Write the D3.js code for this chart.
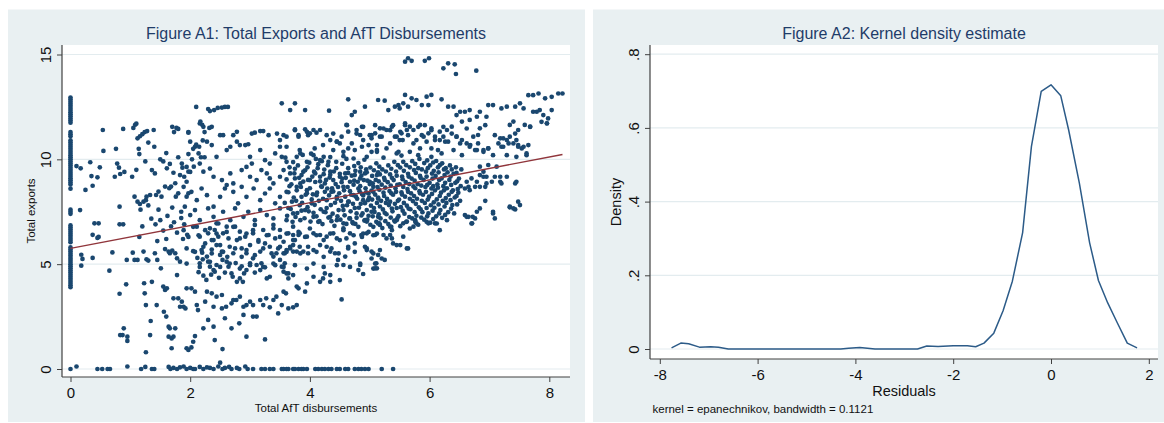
<!DOCTYPE html>
<html>
<head>
<meta charset="utf-8">
<script src="https://cdn.jsdelivr.net/npm/d3@7"></script>
<style>
body { margin: 0; background: #fff; }
svg { display: block; font-family: "Liberation Sans", Arial, sans-serif; }
</style>
</head>
<body>
<svg id="chart"></svg>
<script>
// ---- Figure A1 data ----
// points stacked on x = 0
const colZeroY = [12.95,12.85,12.75,12.65,12.55,12.45,12.35,12.25,12.15,12.05,11.95,11.85,11.75,
  11.3,11.2,11.1,10.9,10.8,10.7,10.6,10.5,10.4,10.3,10.2,10.1,10.0,9.9,9.8,9.7,9.6,9.5,9.4,9.3,9.2,9.1,9.0,8.9,8.8,8.6,
  7.6,7.5,7.4,6.85,6.75,6.65,6.55,6.45,6.35,6.25,6.15,6.05,5.8,5.7,5.6,5.5,5.4,5.3,5.2,5.1,5.0,4.9,4.8,4.7,4.6,4.5,4.4,4.3,4.2,4.1,4.0,3.9];

// points on (or just above) zero exports
const floorPts = [[0,0],[0.1,0.12],[0.45,0],[0.53,0],[0.62,0],[0.66,0],[0.95,0.12],[1.18,0],[1.25,0.1],[1.36,0],[1.4,0],
  [1.64,0.1],[1.67,0],[1.72,0.05],[1.78,0],[1.83,0.08],[1.89,0.12],[1.94,0],[2.0,0.05],[2.05,0],[2.08,0],[2.16,0.1],[2.22,0],
  [2.28,0.08],[2.33,0.05],[2.39,0],[2.47,0.12],[2.5,0.3],[2.54,0],[2.58,0.05],[2.65,0.1],[2.69,0],[2.78,0.05],[2.82,0],[2.92,0.12],
  [2.96,0],[3.05,0],[3.19,0],[3.25,0],[3.33,0],[3.39,0],[3.53,0],[3.56,0],[3.61,0],[3.64,0],[3.72,0],[3.75,0],[3.81,0],[3.86,0],
  [3.89,0],[3.95,0],[4.09,0],[4.14,0],[4.2,0],[4.25,0],[4.31,0],[4.36,0],[4.45,0],[4.5,0],[4.59,0],[4.64,0],[4.75,0],[4.81,0],
  [4.86,0],[4.92,0],[4.98,0],[5.2,0],[5.39,0]];

// low AfT (x < 2)
const lowPts = [[0.10,9.68],[0.17,9.57],[0.25,8.54],[0.16,7.58],[0.35,9.2],[0.37,8.74],[0.33,9.86],[0.49,9.62],[0.45,9.14],
  [0.54,11.4],[0.55,10.4],[0.40,6.95],[0.47,6.95],[0.74,9.17],[0.76,10.5],[0.78,9.8],[0.81,9.6],[0.83,9.3],[0.9,9.4],[0.82,7.74],
  [0.82,6.9],[0.88,6.9],[0.88,11.45],[0.18,5.45],[0.2,5.25],[0.18,4.93],[0.37,5.3],[0.37,6.4],[0.45,6.25],[0.47,6.3],[0.65,4.69],
  [0.7,5.56],[0.82,3.59],[0.83,1.62],[0.87,1.62],[0.89,1.94],[0.95,1.54],[0.95,1.34],[0.93,4.04],[0.94,5.2],
  [1.05,11.5],[1.08,11.65],[1.1,11.7],[1.03,9.17],[1.07,8.22],[1.12,7.98],[1.16,7.87],[1.22,7.98],[1.26,8.05],[1.27,8.22],
  [1.33,8.3],[1.12,11.0],[1.16,11.1],[1.2,11.2],[1.24,11.3],[1.28,11.35],[1.39,11.4],[1.15,10.25],[1.14,10.5],[1.17,7.6],
  [1.36,9.49],[1.41,9.33],[1.43,8.3],[1.47,8.46],[1.52,8.22],[1.58,8.7],[1.65,8.62],[1.68,8.7],[1.61,9.57],[1.66,9.78],
  [1.72,9.36],[1.75,8.86],[1.83,9.25],[1.9,9.17],[1.94,8.93],[1.8,8.38],[1.76,8.22],[1.94,8.22],[1.97,8.38],
  [1.7,11.55],[1.77,11.5],[1.73,11.3],[1.8,11.45],[1.97,11.3],[1.97,10.25],
  [1.04,5.55],[1.07,5.2],[1.12,5.2],[1.22,5.6],[1.23,4.09],[1.24,3.61],[1.26,3.05],[1.27,5.23],[1.3,5.17],[1.33,1.62],
  [1.34,2.29],[1.36,4.16],[1.26,0.8],[1.41,5.52],[1.44,3.05],[1.45,5.2],[1.51,4.8],[1.55,3.93],[1.58,3.77],[1.61,3.85],
  [1.56,2.73],[1.6,2.5],[1.64,2.02],[1.66,1.94],[1.64,1.54],[1.69,1.46],[1.69,0.99],[1.72,1.54],[1.75,1.94],
  [1.58,5.72],[1.64,5.6],[1.66,5.52],[1.7,5.65],[1.75,5.52],[1.78,5.28],[1.83,5.12],[1.78,4.48],[1.72,3.37],[1.8,3.37],
  [1.86,3.21],[1.83,2.97],[1.89,2.97],[1.92,2.89],[1.94,3.85],[1.94,0.99],[1.97,0.91],
  [1.35,7.17],[1.42,6.9],[1.5,7.1],[1.55,6.6],[1.62,7.3],[1.68,6.8],[1.73,7.0],[1.78,6.5],[1.85,7.2],[1.9,6.9],[1.95,6.4],
  [1.2,6.8],[1.15,6.3],[1.45,6.1],[1.6,6.2],[1.88,6.2],[1.3,7.8],[1.47,7.6],[1.7,7.7],[1.85,7.5],[1.5,10.0],[1.55,9.9],
  [1.8,10.1],[1.87,9.6],[1.4,10.6],[1.6,10.3],[1.25,9.9],[1.1,9.5],[1.3,10.8]];

// middle AfT (2 to 3.5)
const midPts = [[2.11,6.79],[2.16,6.31],[2.19,5.67],[2.25,5.99],[2.3,6.47],[2.33,6.71],[2.39,6.15],[2.41,6.63],[2.44,6.95],
  [2.47,6.31],[2.5,5.91],[2.53,5.6],[2.55,6.47],[2.61,6.79],[2.64,6.23],[2.66,5.83],[2.72,5.52],[2.75,6.79],[2.78,6.15],
  [2.83,6.55],[2.86,5.75],[2.92,6.31],[2.94,5.52],[3.0,5.91],[3.05,6.47],[3.08,6.87],[3.14,6.07],[3.17,5.6],[3.22,6.63],
  [3.25,5.99],[3.31,6.39],[3.33,5.83],[3.39,6.87],[3.42,6.23],[3.47,5.75],[3.5,6.63],
  [2.16,5.04],[2.21,5.23],[2.28,5.36],[2.3,5.12],[2.33,4.88],[2.39,4.72],[2.44,4.96],[2.5,5.44],[2.54,5.2],[2.61,5.12],
  [2.64,4.88],[2.69,4.56],[2.71,4.4],[2.78,4.16],[2.83,4.32],[2.88,4.16],[2.9,4.56],[2.94,4.72],[3.0,5.04],[3.05,5.28],
  [3.11,4.96],[3.17,4.72],[3.19,5.04],[3.28,4.32],[3.33,4.4],[3.39,5.36],[3.44,5.52],[3.5,5.2],
  [2.02,3.85],[2.08,3.69],[2.11,3.05],[2.13,2.81],[2.22,1.94],[2.25,3.21],[2.3,2.34],[2.39,2.02],[2.41,1.38],[2.54,0.95],
  [2.41,4.64],[2.02,1.03],[2.05,1.3],[2.08,1.57],[2.28,3.69],[2.36,3.61],[2.44,3.45],[2.53,3.53],[2.39,2.97],[2.53,2.89],
  [2.6,2.97],[2.69,3.13],[2.72,3.29],[2.77,3.29],[2.83,3.45],[2.89,2.97],[2.94,3.05],[3.0,3.21],[3.05,3.05],[2.58,2.42],
  [2.69,1.94],[2.82,2.18],[2.89,2.58],[2.94,1.54],[3.11,2.5],[3.17,3.29],[3.22,3.05],[3.27,3.37],[3.33,2.94],[3.39,3.29],
  [3.44,3.45],[3.47,2.65],[3.05,2.5],[3.25,1.41],
  [2.14,4.62],[2.22,4.45],[2.27,4.25],[2.35,4.5],[2.48,4.35],[2.58,4.6],[2.2,5.55],[2.36,5.7],[2.62,5.35],[2.76,5.05],
  [2.86,4.9],[3.08,4.6],[3.25,4.85],[3.42,4.95],[2.05,5.62],[2.12,5.3],
  [1.91,7.74],[2.0,7.34],[2.08,7.58],[2.16,7.1],[2.3,7.66],[2.39,7.26],[2.47,6.94],[2.55,7.5],[2.67,7.1],[2.75,7.66],
  [2.89,7.26],[2.97,7.5],[3.08,7.1],[3.17,7.58],[3.28,7.34],[3.39,7.18],[3.5,7.66],
  [1.89,6.62],[1.97,6.3],[2.05,6.78],[2.14,6.38],[2.25,6.62],[2.36,6.15],[2.44,6.46],[2.61,6.54],[2.72,6.78],[2.83,6.23],
  [2.94,6.46],[3.05,6.62],[3.14,6.15],[3.28,6.38],[3.39,6.7],[3.5,6.3],
  [1.94,5.75],[2.08,5.59],[2.22,5.83],[2.36,5.51],[2.44,5.91],[2.55,5.59],[2.75,5.75],[2.86,5.35],[2.94,5.67],[3.08,5.43],
  [3.22,5.75],[3.36,5.51],[3.5,5.83],[1.94,5.03],[2.16,4.87],[2.33,5.11],[2.5,4.87],[2.66,5.03],[2.83,4.79],[3.0,4.95],
  [3.22,4.87],[3.39,5.03],
  [1.89,8.69],[2.02,8.45],[2.11,8.05],[2.19,8.61],[2.28,8.29],[2.39,7.74],[2.5,8.21],[2.58,8.61],[2.72,8.45],[2.8,7.9],
  [2.86,8.69],[2.94,8.21],[3.06,8.61],[3.17,8.05],[3.25,8.37],[3.33,8.61],[3.42,7.9],[3.5,8.21],
  [1.86,9.8],[1.94,9.64],[1.97,9.41],[2.16,9.8],[2.22,9.41],[2.33,9.56],[2.39,9.17],[2.53,9.01],[2.61,8.77],[2.67,9.33],
  [2.72,8.85],[2.86,9.49],[2.94,9.64],[3.0,9.17],[3.11,9.01],[3.19,9.49],[3.28,9.33],[3.33,9.09],[3.39,8.85],[3.5,9.17],
  [1.97,11.27],[2.16,11.71],[2.22,11.55],[2.36,11.55],[2.55,11.15],[2.5,11.15],[2.72,11.15],[2.78,11.31],[3.03,11.23],
  [3.08,11.27],[3.17,11.35],[3.22,11.35],[3.31,11.15],[3.45,11.23],[2.0,10.84],[2.08,10.6],[2.14,10.28],[2.28,10.84],
  [2.36,10.68],[2.44,10.12],[2.61,10.44],[2.67,10.6],[2.78,10.84],[2.83,10.68],[2.92,10.68],[2.97,10.72],[3.0,10.12],
  [3.03,9.8],[3.17,10.44],[3.25,9.96],[3.33,9.8],[3.42,10.28],[3.5,10.6],
  [2.1,12.5],[2.17,11.8],[2.2,11.65],[2.24,11.3],[2.32,11.5],[2.3,12.4],[2.33,12.3],[2.4,12.35],[2.46,12.45],[2.53,12.47],
  [2.58,12.5],[2.63,12.5],[2.05,10.5],[2.1,10.7],[2.15,10.6],[2.21,10.9],[2.18,10.1],[2.24,10.1],[2.03,10.0],[2.06,9.65],[2.0,9.4]];

// higher AfT (3.5 to 6.6)
const highPts = [[3.56,6.07],[3.58,5.52],[3.64,6.47],[3.67,5.83],[3.72,6.79],[3.75,6.15],[3.78,5.6],[3.81,6.39],
  [3.53,4.88],[3.56,4.64],[3.64,4.56],[3.72,4.48],[3.78,3.93],
  [3.56,11.15],[3.75,11.39],[3.81,11.15],[3.95,11.31],[3.97,11.15],[4.11,11.27],[4.28,11.15],[4.39,11.23],[4.62,11.63],
  [4.78,11.23],[4.87,11.55],[5.03,11.15],[3.53,10.12],[3.61,9.88],[3.78,10.12],[3.84,10.28],[3.95,9.88],[4.06,10.2],
  [4.17,9.96],[4.23,10.12],[4.31,9.88],[4.45,10.84],[4.5,10.76],[4.56,10.36],[4.64,10.52],[4.73,10.04],[4.87,10.6],
  [4.95,10.12],[5.03,10.36],[5.12,10.68],
  [3.56,9.49],[3.67,9.33],[3.75,9.09],[3.84,8.85],[3.89,9.41],[4.0,9.01],[4.09,9.33],[4.17,9.17],[4.25,8.85],[4.34,9.41],
  [4.39,9.01],[4.5,9.17],[4.59,9.33],[4.67,8.93],[4.75,9.25],[4.84,9.09],[4.92,9.33],[5.0,8.93],[5.12,9.25],
  [3.61,8.45],[3.7,7.98],[3.78,8.69],[3.86,8.21],[3.95,8.53],[4.03,7.9],[4.11,8.29],[4.2,8.69],[4.28,8.05],[4.36,8.45],
  [4.45,8.21],[4.56,8.69],[4.64,7.98],[4.73,8.29],[4.81,8.61],[4.89,8.05],[4.98,8.37],[5.06,8.69],[5.14,8.13],
  [3.61,7.1],[3.72,7.42],[3.84,7.1],[3.92,7.58],[4.06,7.26],[4.14,7.02],[4.23,7.5],[4.34,7.26],[4.45,7.1],[4.56,7.58],
  [4.67,7.18],[4.78,7.42],[4.92,7.1],[5.03,7.5],[5.14,7.26],
  [3.61,6.46],[3.72,6.15],[3.81,6.54],[3.92,6.3],[4.0,6.7],[4.11,6.38],[4.23,6.15],[4.34,6.46],[4.45,6.23],[4.56,6.62],
  [4.73,6.38],[4.87,6.3],[4.98,6.54],[5.12,6.46],
  [3.61,5.59],[3.72,5.91],[3.84,5.51],[3.97,5.83],[4.11,5.59],[4.23,5.35],[4.36,5.75],[4.48,5.51],[4.64,5.83],[4.75,5.59],
  [4.95,5.75],[5.06,5.51],[3.56,4.87],[3.75,4.95],[3.95,4.79],[4.06,5.03],[4.23,4.87],[4.45,4.95],[4.67,4.87],[4.84,5.03],[5.06,4.79],
  [3.56,5.52],[3.58,5.04],[3.61,4.56],[3.64,4.32],[3.56,3.69],[3.6,3.61],[3.53,3.05],[3.64,2.89],[3.72,2.94],[3.78,3.05],
  [3.81,3.85],[3.92,3.69],[3.95,4.08],[4.06,4.4],[4.17,4.16],[4.22,4.32],[4.25,4.56],[4.34,4.16],[4.34,4.48],[4.5,4.24],
  [4.53,3.32],[4.56,4.96],[4.81,4.72],[4.84,4.96],[4.89,4.53],[5.09,4.8],[5.11,5.04],[5.14,5.44],[5.03,5.6],[5.25,5.2],
  [5.17,5.67],[5.45,5.91],[5.56,6.31],[5.64,5.75],[5.73,6.79],[5.78,6.95],[5.98,6.95],[6.09,6.95],[6.71,6.95],[5.34,6.39],
  [5.23,6.39],[5.09,6.39],[4.95,6.47],[4.86,6.39],[4.75,5.99],[4.64,5.75],[4.59,5.36],[4.47,5.2],[4.42,5.52],[4.34,5.6],
  [4.28,5.83],[4.17,5.91],[4.06,5.67],[3.97,5.52],[3.89,5.6],[3.83,5.83],[3.72,5.6],[3.67,5.75],[3.61,5.67],[4.5,6.15],
  [4.61,6.23],[4.67,6.47],[4.39,6.47],[4.28,6.31],[4.17,6.39],[4.06,6.47],[3.95,6.31],[3.83,6.47],[3.72,6.39],[4.56,6.71],
  [4.72,6.95],[4.95,7.03],[5.17,6.87],[5.34,6.79],[5.42,7.03],[5.62,7.03],
  [4.89,6.46],[5.06,6.38],[5.14,6.94],[5.28,6.23],[5.37,6.62],[5.45,7.1],[5.67,6.7],[5.76,7.1],[5.95,7.02],[6.12,6.94],
  [6.17,6.62],[6.29,7.1],[4.92,5.83],[4.95,5.67],[5.03,5.27],[5.09,5.03],[5.12,4.8],[5.2,5.27],[5.37,6.23],[5.51,5.91],
  [5.62,5.75],[5.39,5.99],
  [4.89,11.55],[5.0,11.15],[5.09,11.63],[5.17,11.08],[5.23,11.47],[5.34,11.39],[5.39,11.63],[5.42,11.08],[5.51,11.31],
  [5.55,10.92],[5.59,11.63],[5.64,11.15],[5.73,10.76],[5.81,11.55],[5.87,11.15],[5.92,11.63],[5.95,10.84],[6.03,11.39],
  [6.09,11.08],[6.17,10.92],[6.23,11.55],[6.31,10.84],[6.37,11.23],[6.45,11.08],[6.51,10.76],[5.12,10.36],[5.28,10.52],
  [5.45,10.28],[5.67,10.36],[5.81,10.2],[6.03,10.52],[6.2,10.28],[6.4,10.44],[6.54,10.2],
  [3.53,12.67],[3.75,12.67],[3.67,12.35],[3.92,12.35],[4.32,12.32],[4.64,12.86],[4.75,12.27],[4.7,12.11],[4.92,12.51],
  [5.14,12.83],[5.25,12.8],[5.31,12.35],[5.42,12.51],[5.48,12.59],[5.5,12.43],[5.56,12.67],[5.59,13.07],[5.64,12.51],
  [5.7,12.91],[5.78,12.83],[5.87,12.59],[5.95,12.99],[5.98,12.59],[6.03,13.07],[6.2,12.86],[6.31,12.51],
  [5.59,14.66],[5.64,14.82],[5.7,14.7],[5.92,14.7],[5.99,14.82],[6.23,14.34],[6.31,14.58],[6.42,14.53],[6.44,14.07],[6.78,14.23],
  [3.5,10.92],[3.61,11.08],[3.75,11.43],[3.81,11.08],[3.92,11.43],[4.0,11.24],[4.06,11.4],[4.17,11.4],[4.22,10.68],
  [4.34,10.92],[4.45,10.84],[4.53,11.08],[4.61,11.64],[4.64,11.32],[4.7,10.76],[4.78,11.4],[4.84,11.16],[4.89,10.92],
  [4.98,10.68],[5.03,11.0],[5.09,11.24],[5.17,11.48],[5.2,11.08],[5.28,11.4],[5.34,10.76],[5.37,11.56],[5.45,11.08],
  [5.5,10.92],[5.53,11.24],[5.59,11.72],[5.62,11.4],[5.67,11.56],[5.73,11.4],[5.78,10.92],[5.84,11.64],[5.9,11.08],
  [5.98,11.24],[6.03,11.48],[6.09,10.92],[6.17,11.32],[6.26,10.84],[3.61,10.6],[3.83,10.44],[4.08,10.52],[4.39,10.44],
  [4.75,10.44],[5.12,10.44],[5.48,10.36],[5.84,10.52],[6.14,10.44]];

// dense core of the cloud
const corePts = [[3.62,7.31],[3.58,7.92],[3.64,8.43],[3.61,9.04],[3.66,9.62],[3.59,10.08],
  [3.71,7.02],[3.68,7.63],[3.73,8.18],[3.69,8.81],[3.74,9.33],[3.72,9.87],
  [3.79,7.44],[3.83,7.81],[3.78,8.52],[3.82,9.12],[3.8,9.71],
  [3.91,7.19],[3.87,7.93],[3.93,8.31],[3.89,8.94],[3.92,9.48],[3.88,10.21],
  [4.01,7.03],[3.98,7.52],[4.03,8.09],[4.0,8.62],[4.04,9.18],[3.99,9.84],[4.02,10.27],
  [4.11,7.28],[4.08,7.83],[4.12,8.41],[4.09,8.92],[4.13,9.58],[4.1,10.02],
  [4.21,6.91],[4.18,7.62],[4.22,8.12],[4.19,8.71],[4.23,9.29],[4.2,9.91],
  [4.31,7.22],[4.28,7.68],[4.32,8.28],[4.29,8.61],[4.33,9.13],[4.3,9.72],[4.34,10.11],
  [4.41,6.83],[4.38,7.41],[4.42,7.93],[4.39,8.47],[4.43,8.82],[4.4,9.42],[4.44,9.88],
  [4.51,7.12],[4.48,7.58],[4.52,8.02],[4.49,8.38],[4.53,8.91],[4.5,9.31],[4.54,9.79],
  [4.61,6.92],[4.58,7.33],[4.62,7.81],[4.59,8.22],[4.63,8.68],[4.6,9.12],[4.64,9.58],[4.61,10.02],
  [4.71,7.01],[4.68,7.52],[4.72,7.88],[4.69,8.31],[4.73,8.79],[4.7,9.22],[4.74,9.68],
  [4.81,6.78],[4.78,7.21],[4.82,7.69],[4.79,8.12],[4.83,8.48],[4.8,8.93],[4.84,9.41],[4.81,9.82],
  [4.91,7.08],[4.88,7.42],[4.92,7.91],[4.89,8.28],[4.93,8.62],[4.9,9.01],[4.94,9.52],[4.91,9.98],
  [5.01,6.88],[4.98,7.31],[5.02,7.79],[4.99,8.18],[5.03,8.51],[5.0,8.82],[5.04,9.21],[5.01,9.61],
  [5.11,7.02],[5.08,7.49],[5.12,7.92],[5.09,8.32],[5.13,8.68],[5.1,9.02],[5.14,9.38],[5.11,9.81],
  [5.21,6.72],[5.18,7.18],[5.22,7.61],[5.19,8.02],[5.23,8.41],[5.2,8.79],[5.24,9.12],[5.21,9.52],[5.23,10.08],
  [5.31,6.91],[5.28,7.38],[5.32,7.82],[5.29,8.11],[5.33,8.49],[5.3,8.91],[5.34,9.28],[5.31,9.71],
  [5.41,7.08],[5.38,7.52],[5.42,7.88],[5.39,8.31],[5.43,8.62],[5.4,9.01],[5.44,9.42],[5.41,9.88],
  [5.51,6.81],[5.48,7.29],[5.52,7.72],[5.49,8.08],[5.53,8.42],[5.5,8.81],[5.54,9.18],[5.51,9.61],[5.53,10.18],
  [5.61,7.02],[5.58,7.41],[5.62,7.79],[5.59,8.22],[5.63,8.58],[5.6,8.92],[5.64,9.31],[5.61,9.72],
  [5.71,7.18],[5.68,7.62],[5.72,8.01],[5.69,8.38],[5.73,8.71],[5.7,9.08],[5.74,9.49],[5.71,9.91],
  [5.81,6.88],[5.78,7.31],[5.82,7.71],[5.79,8.12],[5.83,8.48],[5.8,8.82],[5.84,9.21],[5.81,9.58],[5.83,10.02],
  [5.91,7.12],[5.88,7.48],[5.92,7.92],[5.89,8.31],[5.93,8.68],[5.9,9.02],[5.94,9.41],[5.91,9.82],
  [6.01,6.98],[5.98,7.42],[6.02,7.81],[5.99,8.22],[6.03,8.61],[6.0,8.88],[6.04,9.32],[6.01,9.71],[6.03,10.12],
  [6.11,7.28],[6.08,7.69],[6.12,8.09],[6.09,8.52],[6.13,8.81],[6.1,9.21],[6.14,9.62],[6.11,9.92],
  [6.21,7.21],[6.18,7.58],[6.22,8.02],[6.19,8.41],[6.23,8.72],[6.2,9.09],[6.24,9.52],[6.21,9.81],
  [6.31,7.48],[6.28,7.92],[6.32,8.31],[6.29,8.62],[6.33,9.02],[6.3,9.38],[6.34,9.71],
  [6.41,7.42],[6.38,7.82],[6.42,8.18],[6.39,8.52],[6.43,8.88],[6.4,9.31],[6.44,9.62],
  [6.51,8.02],[6.48,8.41],[6.52,8.72],[6.49,9.08],[6.53,9.52]];

// second layer of the dense core, between the first
const corePts2 = [[3.64,7.68],[3.66,8.72],[3.76,7.25],[3.77,8.02],[3.75,9.55],[3.86,7.55],[3.85,8.68],[3.86,9.25],
  [3.96,7.72],[3.95,8.38],[3.97,9.02],[3.96,9.62],
  [4.06,7.45],[4.05,8.33],[4.07,9.41],[4.16,7.05],[4.15,8.02],[4.17,8.95],[4.14,9.77],
  [4.26,7.48],[4.25,8.45],[4.27,9.02],[4.24,9.51],[4.36,7.05],[4.35,7.82],[4.37,8.62],[4.34,9.26],
  [4.46,7.28],[4.45,8.12],[4.47,8.68],[4.44,9.58],[4.56,6.95],[4.55,7.78],[4.57,8.52],[4.54,9.08],[4.56,10.15],
  [4.66,7.18],[4.65,7.98],[4.67,8.48],[4.64,9.35],[4.76,6.92],[4.75,7.68],[4.77,8.22],[4.74,8.98],[4.76,9.45],
  [4.86,7.32],[4.85,7.88],[4.87,8.35],[4.84,8.72],[4.86,9.22],[4.85,9.62],
  [4.96,7.12],[4.95,7.58],[4.97,8.05],[4.94,8.42],[4.96,8.98],[4.95,9.38],
  [5.06,6.78],[5.05,7.28],[5.07,7.68],[5.04,8.08],[5.06,8.45],[5.05,8.85],[5.07,9.48],
  [5.16,6.95],[5.15,7.38],[5.17,7.75],[5.14,8.18],[5.16,8.55],[5.15,8.95],[5.17,9.28],[5.16,9.65],
  [5.26,7.05],[5.25,7.45],[5.27,7.92],[5.24,8.25],[5.26,8.65],[5.25,9.02],[5.27,9.42],
  [5.36,6.78],[5.35,7.22],[5.37,7.65],[5.34,7.98],[5.36,8.38],[5.35,8.75],[5.37,9.12],[5.36,9.55],
  [5.46,7.18],[5.45,7.68],[5.47,8.02],[5.44,8.45],[5.46,8.78],[5.45,9.22],[5.47,9.72],
  [5.56,6.95],[5.55,7.55],[5.57,7.92],[5.54,8.32],[5.56,8.68],[5.55,9.05],[5.57,9.45],[5.56,9.88],
  [5.66,7.25],[5.65,7.65],[5.67,8.12],[5.64,8.45],[5.66,8.82],[5.65,9.18],[5.67,9.62],
  [5.76,7.02],[5.75,7.48],[5.77,7.88],[5.74,8.25],[5.76,8.62],[5.75,8.98],[5.77,9.35],[5.76,9.78],
  [5.86,7.22],[5.85,7.62],[5.87,8.02],[5.84,8.38],[5.86,8.75],[5.85,9.12],[5.87,9.52],
  [5.96,7.28],[5.95,7.68],[5.97,8.08],[5.94,8.45],[5.96,8.78],[5.95,9.18],[5.97,9.58],[5.96,9.95],
  [6.06,7.15],[6.05,7.55],[6.07,7.95],[6.04,8.35],[6.06,8.72],[6.05,9.08],[6.07,9.45],[6.06,9.85],
  [6.16,7.42],[6.15,7.85],[6.17,8.25],[6.14,8.65],[6.16,9.02],[6.15,9.38],[6.17,9.72],
  [6.26,7.35],[6.25,7.75],[6.27,8.15],[6.24,8.52],[6.26,8.88],[6.25,9.25],[6.27,9.58],
  [6.36,7.65],[6.35,8.05],[6.37,8.45],[6.36,8.78],[6.35,9.18],[6.37,9.52],
  [6.46,7.85],[6.45,8.25],[6.47,8.58],[6.46,8.95],[6.45,9.35]];

// top AfT (x > 6.5)
const topPts = [[6.62,8.93],[6.65,8.69],[6.7,9.09],[6.76,8.69],[6.84,9.25],[6.93,8.69],[6.95,9.17],[7.04,8.93],[7.09,9.17],
  [7.18,8.93],[7.29,9.17],[7.43,8.85],[6.59,8.61],[6.67,8.53],[6.79,8.93],[6.93,8.02],[7.06,7.5],[7.09,7.18],[7.34,7.71],
  [7.43,7.61],[7.48,7.98],[7.51,7.82],[6.62,7.26],[6.65,7.26],[6.7,6.94],[6.76,7.18],[6.79,7.5],
  [6.62,11.47],[6.68,10.68],[6.76,10.44],[6.81,10.76],[6.9,10.36],[6.98,10.52],[6.93,11.63],[7.09,11.15],[7.15,10.76],
  [7.23,11.0],[7.32,10.76],[7.43,11.23],[7.48,10.68],[7.57,10.6],[7.65,10.68],[7.68,11.55],[7.87,11.79],[7.96,11.71],
  [7.29,10.2],[7.45,10.12],[7.62,10.2],
  [6.59,7.34],[6.72,7.26],[6.84,7.66],[6.84,8.69],[6.9,9.17],[6.95,8.85],[7.06,7.42],[7.18,9.17],[7.2,8.85],[7.34,7.74],
  [7.4,7.66],[7.45,8.93],[6.84,9.65],[6.9,9.41],[6.98,9.73],[7.06,10.2],[7.12,9.65],[7.2,10.6],[7.29,10.92],[7.34,11.08],
  [7.4,10.76],[7.45,10.92],[7.48,10.6],[7.54,10.52],[7.62,10.28],[7.18,11.0],[7.23,10.6],[7.34,11.64],[7.4,11.8],[7.48,11.4],
  [7.59,11.64],[7.68,11.56],[7.73,12.27],[7.79,12.27],[7.84,12.35],[7.9,12.11],[7.96,11.72],[7.98,11.95],[8.04,12.35],
  [7.73,13.06],[7.82,13.14],[7.93,12.91],[8.04,12.98],[8.15,13.14],[8.22,13.14],[7.51,12.67],[7.57,12.43],[7.65,13.06],
  [7.43,12.51],[7.29,12.51],[7.2,12.43],[7.06,12.59],[6.98,12.59],[6.84,12.27],[6.95,12.03],[6.79,12.03],[6.67,12.35],
  [6.59,12.27],[6.51,12.27],[6.4,12.51],[6.45,12.11],[6.37,11.56],[6.54,11.8],[6.67,11.88],[6.73,11.08],[6.81,11.16],
  [6.62,10.76],[6.67,10.6],[6.79,10.44],[6.9,10.44],[6.98,10.52],[6.54,10.92],[6.45,11.08],[6.29,11.4],[6.23,11.08],[6.84,11.48]];

// linear fit, end points
const fitLine = [[0, 5.75], [8.22, 10.23]];

const xTicksA = [0, 2, 4, 6, 8];
const yTicksA = [0, 5, 10, 15];

// ---- Figure A2 data ----
const kdeX = [-7.76,-7.57,-7.41,-7.19,-6.96,-6.8,-6.6,-5.5,-4.3,-4.14,-3.91,-3.6,-2.73,-2.54,-2.31,-2.0,-1.71,-1.54,
  -1.37,-1.17,-0.98,-0.79,-0.58,-0.40,-0.20,0.0,0.2,0.36,0.58,0.79,0.97,1.16,1.36,1.56,1.76];
const kdeY = [0.003,0.016,0.014,0.005,0.006,0.005,0.0,0.0,0.0,0.002,0.004,0.0,0.0,0.008,0.007,0.009,0.009,0.006,
  0.016,0.043,0.104,0.184,0.316,0.55,0.699,0.717,0.687,0.595,0.45,0.288,0.186,0.125,0.07,0.016,0.003];

const xTicksB = [-8, -6, -4, -2, 0, 2];
const yTicksB = [0, 0.2, 0.4, 0.6, 0.8];

// ---- drawing ----
const width = 1164, height = 423;
const bgCol = "#e9f0f2", gridCol = "#e3ecef", axisCol = "#404040";
const navy = "#1a476f", titleCol = "#1f3c69", fitCol = "#90353b";

const svg = d3.select("#chart").attr("width", width).attr("height", height);

function drawPanel(o) {
  const g = svg.append("g");
  g.append("rect").attr("x", o.bx).attr("y", 9.5).attr("width", o.bw).attr("height", 412.5).attr("fill", bgCol);
  g.append("rect").attr("x", o.left).attr("y", 45).attr("width", o.right - o.left).attr("height", o.bottom - 45)
    .attr("fill", "#fff");

  // horizontal grid
  g.selectAll(".grid").data(o.yTicks).enter().append("line")
    .attr("x1", o.left).attr("x2", o.right)
    .attr("y1", d => o.y(d)).attr("y2", d => o.y(d))
    .attr("stroke", gridCol).attr("stroke-width", 1.2);

  // y axis
  const ya = g.append("g").attr("transform", `translate(${o.left},0)`)
    .call(d3.axisLeft(o.y).tickValues(o.yTicks).tickSize(5).tickSizeOuter(0).tickFormat(o.yFmt));
  ya.select(".domain").remove();
  ya.selectAll("line").attr("stroke", axisCol);
  ya.selectAll("text").attr("x", 0).attr("dy", null)
    .attr("transform", "translate(-11.5,0) rotate(-90)")
    .attr("text-anchor", "middle").attr("fill", "#111").style("font-size", "15px");

  // x axis (plain hyphen for negatives, as in the original)
  const xa = g.append("g").attr("transform", `translate(0,${o.bottom})`)
    .call(d3.axisBottom(o.x).tickValues(o.xTicks).tickSize(5).tickSizeOuter(0).tickFormat(d => String(d)));
  xa.select(".domain").remove();
  xa.selectAll("line").attr("stroke", axisCol);
  xa.selectAll("text").attr("y", 21).attr("dy", null).attr("fill", "#111").style("font-size", "15px");

  g.append("line").attr("x1", o.left).attr("x2", o.left).attr("y1", 45).attr("y2", o.bottom)
    .attr("stroke", axisCol).attr("stroke-width", 1.2);
  g.append("line").attr("x1", o.left).attr("x2", o.right).attr("y1", o.bottom).attr("y2", o.bottom)
    .attr("stroke", axisCol).attr("stroke-width", 1.2);

  const cx = (o.left + o.right) / 2;
  g.append("text").attr("x", cx).attr("y", 39).attr("text-anchor", "middle")
    .attr("fill", titleCol).style("font-size", "16px").text(o.title);
  g.append("text").attr("x", cx).attr("y", o.xLabY).attr("text-anchor", "middle")
    .attr("fill", "#111").style("font-size", o.labSize).text(o.xLab);
  g.append("text").attr("transform", `translate(${o.yLabX},${(45 + o.bottom) / 2}) rotate(-90)`)
    .attr("text-anchor", "middle").attr("fill", "#111").style("font-size", o.labSize).text(o.yLab);
  return g;
}

// Figure A1
const xA = d3.scaleLinear().domain([0, 8]).range([70.5, 549.3]);
const yA = d3.scaleLinear().domain([0, 15]).range([369, 54.5]);
const gA = drawPanel({
  bx: 8, bw: 577, left: 62, right: 570, bottom: 377, x: xA, y: yA,
  xTicks: xTicksA, yTicks: yTicksA, yFmt: d3.format("d"),
  title: "Figure A1: Total Exports and AfT Disbursements",
  xLab: "Total AfT disbursements", yLab: "Total exports", xLabY: 412, yLabX: 35, labSize: "11.5px"
});

const scatter = colZeroY.map(v => [0, v])
  .concat(floorPts, lowPts, midPts, highPts, corePts, corePts2, topPts);
gA.append("g").selectAll("circle").data(scatter).enter().append("circle")
  .attr("cx", d => xA(d[0])).attr("cy", d => yA(d[1])).attr("r", 2.35)
  .attr("fill", navy);

gA.append("path").datum(fitLine)
  .attr("d", d3.line().x(d => xA(d[0])).y(d => yA(d[1])))
  .attr("fill", "none").attr("stroke", fitCol).attr("stroke-width", 1.3);

// Figure A2
const xB = d3.scaleLinear().domain([-8, 2]).range([659.8, 1148.8]);
const yB = d3.scaleLinear().domain([0, 0.8]).range([349, 54.2]);
const gB = drawPanel({
  bx: 593, bw: 571, left: 650, right: 1158, bottom: 359, x: xB, y: yB,
  xTicks: xTicksB, yTicks: yTicksB, yFmt: d => d === 0 ? "0" : d3.format(".1f")(d).replace(/^0/, ""),
  title: "Figure A2: Kernel density estimate",
  xLab: "Residuals", yLab: "Density", xLabY: 396, yLabX: 621, labSize: "14.5px"
});

const kde = kdeX.map((v, i) => [v, kdeY[i]]);
gB.append("path").datum(kde)
  .attr("d", d3.line().x(d => xB(d[0])).y(d => yB(d[1])))
  .attr("fill", "none").attr("stroke", "#2c5b88").attr("stroke-width", 1.5).attr("stroke-linejoin", "round");

gB.append("text").attr("x", 652.5).attr("y", 413).attr("fill", "#111").style("font-size", "11.5px")
  .text("kernel = epanechnikov, bandwidth = 0.1121");
</script>
</body>
</html>
